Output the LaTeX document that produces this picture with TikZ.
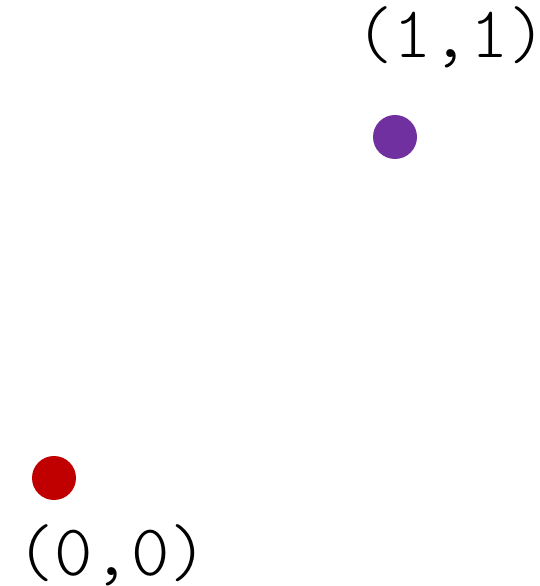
\documentclass[tikz,border=0pt]{standalone}
\usepackage{fontspec}
\setmonofont{Latin Modern Mono Light}
\definecolor{dotred}{HTML}{C00000}
\definecolor{dotpurple}{HTML}{7030A0}
\begin{document}
\begin{tikzpicture}[x=1pt,y=1pt,
  dot/.style={circle,inner sep=0pt,minimum size=44pt},
  lbl/.style={font=\ttfamily\fontsize{73}{78}\selectfont,inner sep=0pt,anchor=base}]
\useasboundingbox (0,0) rectangle (539,586);
\node[dot,fill=dotred] (a) at (54,108) {};
\node[dot,fill=dotpurple] (b) at (395,449) {};
\node[lbl] (la) at (112,10) {(0,0)};
\node[lbl] (lb) at (451,528) {(1,1)};
\end{tikzpicture}
\end{document}
